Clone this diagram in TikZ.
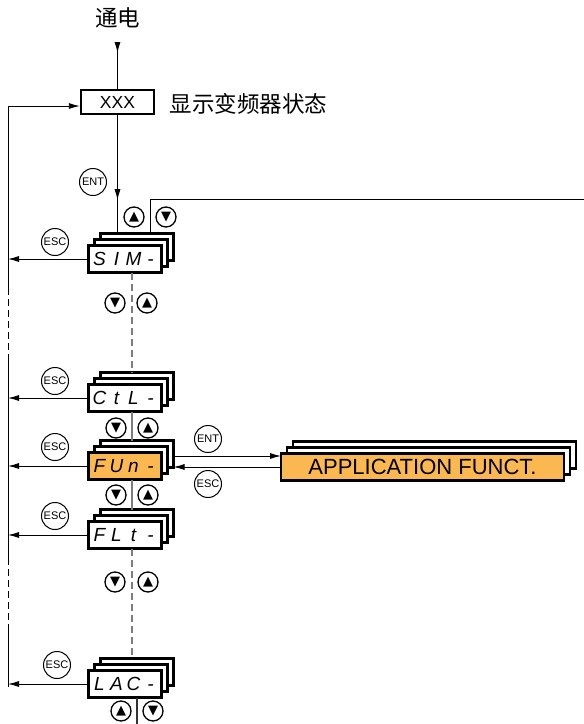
\documentclass[tikz,border=0pt]{standalone}
\usepackage{fontspec}
\setmainfont{Liberation Sans}
\newfontfamily\cjk{Noto Sans CJK SC}
\newfontfamily\symfont{DejaVu Sans}
\newfontfamily\lcdfont{Liberation Sans}
\usetikzlibrary{arrows.meta}
\pgfdeclarelayer{background}
\pgfsetlayers{background,main}
\definecolor{KeyOrange}{RGB}{252, 184, 80}
\definecolor{LinkGray}{RGB}{125, 125, 125}
\newcommand{\lcdtext}[4]{\lcdfont\itshape\fontsize{19}{19}\selectfont
  \makebox[17pt]{#1}\makebox[17pt]{#2}\makebox[17pt]{#3}\makebox[17pt]{#4}}

\begin{document}
\begin{tikzpicture}[x=1pt, y=-1pt,
    menubox/.style={draw, line width=2.7pt, fill=white, minimum width=73pt, minimum height=27pt,
      inner sep=0pt, outer sep=0pt},
    backbox/.style={draw, line width=2.7pt, fill=white},
    keybtn/.style={circle, draw, line width=1pt, fill=white, minimum size=27pt, inner sep=0pt, font=\fontsize{11}{11}\selectfont},
    arrowbtn/.style={circle, draw, line width=1.3pt, fill=white, minimum size=20pt, inner sep=0pt, font=\symfont\fontsize{13}{13}\selectfont},
    flow/.style={line width=0.9pt, -{Latex[length=11pt,width=6pt]}},
    navline/.style={LinkGray, line width=1.3pt},
    gap/.style={dash pattern=on 7pt off 4pt}]
  \useasboundingbox (0,0) rectangle (584,724);

  % Power on and state display
  \node[anchor=base, font=\cjk\fontsize{22.5}{22.5}\selectfont] (pwr) at (117.5,26) {通电};
  \node[draw, line width=2.4pt, minimum width=73pt, minimum height=24pt, inner sep=0pt,
        font=\fontsize{17.5}{17.5}\selectfont] (xxx) at (117.5,102) {XXX};
  \node[anchor=base west, font=\cjk\fontsize{22.5}{22.5}\selectfont] (state) at (166,112) {显示变频器状态};

  % Menus
  \node[menubox] (sim) at (125,259) {\lcdtext{S}{I}{M}{-}};
  \node[menubox] (ctl) at (125,398) {\lcdtext{C}{t}{L}{-}};
  \node[menubox, fill=KeyOrange] (fun) at (125,466) {\lcdtext{F}{U}{n}{-}};
  \node[menubox] (flt) at (125,535) {\lcdtext{F}{L}{t}{-}};
  \node[menubox] (lac) at (125,684) {\lcdtext{L}{A}{C}{-}};
  \node[menubox, fill=KeyOrange, minimum width=283pt, font=\fontsize{22}{22}\selectfont] (app) at (422.5,467) {APPLICATION FUNCT.};

  % Stacked pages
  \begin{pgfonlayer}{background}
    \foreach \m in {sim, ctl, fun, flt, lac, app}
      \foreach \s in {12pt, 6pt}
        \draw[backbox] ([shift={(\s,\s)}]\m.south west) rectangle ([shift={(\s,\s)}]\m.north east);
  \end{pgfonlayer}

  \coordinate (bus) at (8,106);
  \coordinate (simtop) at ([yshift=12pt]sim.north);
  \coordinate (offpage) at (584,199);
  \coordinate (pgend) at (137,724);
  \coordinate (funR) at ([xshift=12pt]fun.east);

  % Main line
  \draw[flow] ([yshift=-16pt]pwr.base) -- ++(0,11);
  \draw[line width=0.9pt] ([yshift=-16pt]pwr.base) -- (xxx.north);
  \draw[flow] (bus) -- (bus -| xxx.west);
  \draw[line width=0.9pt] (xxx.south) -- (xxx.south |- simtop);
  \draw[flow] (xxx.south) -- ++(0,85);
  \draw[line width=0.9pt] ([xshift=25pt]simtop) |- (offpage);

  % ESC return bus
  \draw[line width=0.9pt] (bus) -- (8,288);
  \draw[line width=0.9pt, gap] (8,288) -- (8,358);
  \draw[line width=0.9pt] (8,358) -- (8,558);
  \draw[line width=0.9pt, gap] (8,558) -- (8,630);
  \draw[line width=0.9pt] (8,630) -- (8,687);
  \foreach \m in {sim, ctl, fun, flt, lac}
    \draw[flow] (\m.west) -- (\m.west -| bus);

  % Links between menus
  \draw[navline, gap] ([xshift=7pt]sim.south) -- ([xshift=7pt, yshift=12pt]ctl.north);
  \draw[navline] ([xshift=7pt]ctl.south) -- ([xshift=7pt, yshift=12pt]fun.north);
  \draw[navline] ([xshift=7pt]fun.south) -- ([xshift=7pt, yshift=12pt]flt.north);
  \draw[navline, gap] ([xshift=7pt]flt.south) -- ([xshift=7pt, yshift=12pt]lac.north);
  \draw[line width=1.1pt, black!80] ([xshift=12pt]lac.south) -- (pgend);

  % Application functions
  \draw[flow] ([yshift=10pt]funR) -- ([yshift=10pt]funR -| app.west);
  \draw[flow] (app.west) -- (app.west -| funR);

  % Keys
  \node[keybtn] (ent1) at (93,182) {ENT};
  \node[keybtn] (ent2) at (208,439) {ENT};
  \node[keybtn] (esc0) at (208,484) {ESC};
  \node[keybtn] (esc1) at (55,242) {ESC};
  \node[keybtn] (esc2) at (55,381) {ESC};
  \node[keybtn] (esc3) at (55,447) {ESC};
  \node[keybtn] (esc4) at (55,516) {ESC};
  \node[keybtn] (esc5) at (57,665) {ESC};

  \node[arrowbtn] (up1) at (134,217) {▲};
  \node[arrowbtn] (dn1) at (166,217) {▼};
  \node[arrowbtn] (dn2) at (115,303) {▼};
  \node[arrowbtn] (up2) at (147,303) {▲};
  \node[arrowbtn] (dn3) at (116,428) {▼};
  \node[arrowbtn] (up3) at (148,428) {▲};
  \node[arrowbtn] (dn4) at (116,495) {▼};
  \node[arrowbtn] (up4) at (148,495) {▲};
  \node[arrowbtn] (dn5) at (115,582) {▼};
  \node[arrowbtn] (up5) at (148,582) {▲};
  \node[arrowbtn] (up6) at (121,711) {▲};
  \node[arrowbtn] (dn6) at (153,711) {▼};
\end{tikzpicture}
\end{document}
